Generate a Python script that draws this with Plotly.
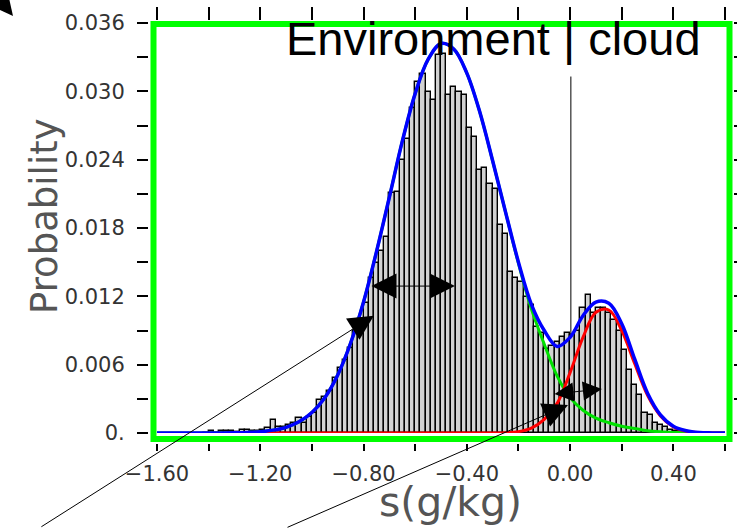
import plotly.graph_objects as go

W, H = 737, 528

# ---------------- data ----------------
BIN_START = -1.42          # left edge of first histogram bin
BIN_WIDTH = 0.02
HIST_PROB = [
    0.0000, 0.0002, 0.0000, 0.0002, 0.0002, 0.0002, 0.0001, 0.0003, 0.0003, 0.0002,
    0.0002, 0.0003, 0.0004, 0.0011, 0.0005, 0.0005, 0.0007, 0.0009, 0.0013, 0.0009,
    0.0014, 0.0018, 0.0029, 0.0032, 0.0037, 0.0048, 0.0057, 0.0064, 0.0075, 0.0090,
    0.0100, 0.0114, 0.0136, 0.0149, 0.0160, 0.0172, 0.0211, 0.0212, 0.0240, 0.0258,
    0.0285, 0.0308, 0.0315, 0.0299, 0.0292, 0.0332, 0.0333, 0.0297, 0.0304, 0.0299,
    0.0297, 0.0268, 0.0260, 0.0231, 0.0233, 0.0219, 0.0214, 0.0183, 0.0175, 0.0141,
    0.0136, 0.0133, 0.0119, 0.0112, 0.0093, 0.0088, 0.0074, 0.0076, 0.0080, 0.0084,
    0.0088, 0.0086, 0.0090, 0.0110, 0.0121, 0.0105, 0.0110, 0.0110, 0.0105, 0.0099,
    0.0090, 0.0073, 0.0055, 0.0042, 0.0033, 0.0018, 0.0016, 0.0009, 0.0007, 0.0005,
    0.0003, 0.0002, 0.0002, 0.0001,
]

CURVE_X = [-1.60, -1.55, -1.50, -1.45, -1.40, -1.35, -1.30, -1.25, -1.20, -1.15,
           -1.10, -1.05, -1.00, -0.95, -0.90, -0.85, -0.80, -0.75, -0.70, -0.65,
           -0.60, -0.55, -0.50, -0.45, -0.40, -0.35, -0.30, -0.25, -0.20, -0.15,
           -0.10, -0.05, 0.00, 0.05, 0.10, 0.15, 0.20, 0.25, 0.30, 0.35,
           0.40, 0.45, 0.50, 0.55, 0.60]
# total fit (blue)
TOTAL_FIT = [0, 0, 0, 0.000001, 0.000003, 0.000008, 0.00002, 0.00005, 0.00011, 0.00025,
             0.0005, 0.00098, 0.0018, 0.0031, 0.0051, 0.0079, 0.0115, 0.0159, 0.0207, 0.0256,
             0.0298, 0.0328, 0.0342, 0.0337, 0.0316, 0.0282, 0.0239, 0.0194, 0.0150, 0.0113,
             0.0090, 0.0076, 0.0084, 0.0103, 0.0115, 0.0114, 0.0096, 0.0065, 0.0035, 0.0016,
             0.0006, 0.0002, 0.00004, 0.00001, 0]
# environment mode (green)
ENV_FIT = [0, 0, 0, 0.000001, 0.000003, 0.000008, 0.00002, 0.00005, 0.00011, 0.00025,
           0.0005, 0.00098, 0.0018, 0.0031, 0.0051, 0.0079, 0.0115, 0.0159, 0.0207, 0.0256,
           0.0298, 0.0328, 0.0342, 0.0337, 0.0316, 0.0282, 0.0239, 0.0194, 0.0149, 0.0109,
           0.0078, 0.0050, 0.0031, 0.0020, 0.0013, 0.0009, 0.0006, 0.0004, 0.0002, 0.0001,
           0.00005, 0.00002, 0, 0, 0]
# cloud mode (red), drawn from -1.20 onward
CLOUD_FIT = [None, None, None, None, None, None, None, None, 0, 0,
             0, 0, 0, 0, 0, 0, 0, 0, 0, 0,
             0, 0, 0, 0, 0, 0, 0.000005, 0.00003, 0.00012, 0.00043,
             0.0012, 0.0026, 0.0053, 0.0084, 0.0106, 0.0108, 0.0090, 0.0061, 0.0033, 0.0015,
             0.00054, 0.00016, 0.00004, 0.00001, 0]

X_TICKS = [-1.6, -1.4, -1.2, -1.0, -0.8, -0.6, -0.4, -0.2, 0.0, 0.2, 0.4, 0.6]
X_TICKTEXT = ["\u22121.60", "", "\u22121.20", "", "\u22120.80", "", "\u22120.40", "",
              "0.00", "", "0.40", ""]
Y_TICKS = [0, 0.003, 0.006, 0.009, 0.012, 0.015, 0.018, 0.021, 0.024, 0.027, 0.030, 0.033, 0.036]
Y_TICKTEXT = ["0.", "", "0.006", "", "0.012", "", "0.018", "", "0.024", "", "0.030", "", "0.036"]

DIVIDER_X = 0.003          # environment | cloud threshold line
DIVIDER_TOP = 0.0313

# annotation anchor points (data units)
WIDTH_ARROW_ENV = (-0.775, -0.446, 0.0129)
WIDTH_ARROW_CLOUD = (-0.066, 0.00342, 0.123, 0.00386)
POINTER_ENV = (-0.760, 0.0103)
POINTER_CLOUD = (-0.008, 0.00246)

TITLE = "Environment | cloud"
X_TITLE = "s(g/kg)"
Y_TITLE = "Probability"

# ---------------- helpers (pixel -> paper fraction) ----------------
def fx(px):
    return px / W


def fy(py):
    return 1 - py / H


centers = [round(BIN_START + BIN_WIDTH * (i + 0.5), 4) for i in range(len(HIST_PROB))]

fig = go.Figure()
fig.add_trace(go.Bar(x=centers, y=HIST_PROB, width=BIN_WIDTH,
                     marker=dict(color="#d2d2d2", line=dict(color="black", width=1.4)),
                     hoverinfo="skip", showlegend=False))
fig.add_trace(go.Scatter(x=CURVE_X, y=ENV_FIT, mode="lines",
                         line=dict(color="#00e000", width=3, shape="spline"),
                         showlegend=False))
fig.add_trace(go.Scatter(x=CURVE_X, y=CLOUD_FIT, mode="lines",
                         line=dict(color="#ff0000", width=3, shape="spline"),
                         showlegend=False))
fig.add_trace(go.Scatter(x=CURVE_X, y=TOTAL_FIT, mode="lines",
                         line=dict(color="#0000ff", width=3.5, shape="spline"),
                         showlegend=False))
# invisible trace to carry the mirrored (top / right) tick axes
fig.add_trace(go.Scatter(x=[X_TICKS[0]], y=[Y_TICKS[0]], xaxis="x2", yaxis="y2",
                         mode="markers", marker=dict(opacity=0), hoverinfo="skip",
                         showlegend=False))

tickfont = dict(family="DejaVu Sans", size=21, color="#333333")
axis_common = dict(showgrid=False, zeroline=False, showline=False, ticks="outside",
                   tickcolor="black", tickwidth=1.5)

fig.update_layout(
    width=W, height=H,
    margin=dict(l=0, r=0, t=0, b=0, pad=0),
    paper_bgcolor="white", plot_bgcolor="white",
    showlegend=False, bargap=0,
    xaxis=dict(domain=[fx(157), fx(725)], range=[-1.6, 0.6], anchor="free",
               position=fy(443), ticklen=7, tickvals=X_TICKS, ticktext=X_TICKTEXT,
               tickfont=tickfont, ticklabelstandoff=5, automargin=False, **axis_common),
    yaxis=dict(domain=[fy(433), fy(23)], range=[0, 0.036], anchor="free",
               position=fx(148), ticklen=11, tickvals=Y_TICKS, ticktext=Y_TICKTEXT,
               tickfont=tickfont, ticklabelstandoff=8, automargin=False, **axis_common),
    xaxis2=dict(overlaying="x", side="top", anchor="free", position=fy(20),
                range=[-1.6, 0.6], ticklen=13, tickvals=X_TICKS, showticklabels=False,
                automargin=False, **axis_common),
    yaxis2=dict(overlaying="y", side="right", anchor="free", position=fx(733),
                range=[0, 0.036], ticklen=11, tickvals=Y_TICKS, showticklabels=False,
                automargin=False, **axis_common),
)

# thin divider line between environment and cloud
fig.add_shape(type="line", xref="x", yref="y", x0=DIVIDER_X, x1=DIVIDER_X,
              y0=0, y1=DIVIDER_TOP, line=dict(color="black", width=1), layer="below")
# bright green frame
fig.add_shape(type="rect", xref="paper", yref="paper",
              x0=fx(153.5), x1=fx(729.5), y0=fy(439), y1=fy(24),
              line=dict(color="#00ff00", width=6), layer="above")

arrow = dict(showarrow=True, arrowcolor="black", arrowwidth=1, text="")

# width arrow on the environment mode
fig.add_annotation(x=WIDTH_ARROW_ENV[1], y=WIDTH_ARROW_ENV[2], xref="x", yref="y",
                   ax=WIDTH_ARROW_ENV[0], ay=WIDTH_ARROW_ENV[2], axref="x", ayref="y",
                   arrowhead=2, startarrowhead=2, arrowside="end+start",
                   arrowsize=5, startarrowsize=5, **arrow)
# width arrow on the cloud mode
fig.add_annotation(x=WIDTH_ARROW_CLOUD[2], y=WIDTH_ARROW_CLOUD[3], xref="x", yref="y",
                   ax=WIDTH_ARROW_CLOUD[0], ay=WIDTH_ARROW_CLOUD[1], axref="x", ayref="y",
                   arrowhead=2, startarrowhead=2, arrowside="end+start",
                   arrowsize=3.8, startarrowsize=3.8, **arrow)
# long pointer lines from the lower left
fig.add_annotation(x=POINTER_ENV[0], y=POINTER_ENV[1], xref="x", yref="y",
                   ax=-334, ay=212, arrowhead=2, arrowsize=5, **arrow)
fig.add_annotation(x=POINTER_CLOUD[0], y=POINTER_CLOUD[1], xref="x", yref="y",
                   ax=-282, ay=123, arrowhead=2, arrowsize=5, **arrow)
# tip of an arrow coming in from outside the top-left corner
fig.add_annotation(x=fx(13), y=fy(16), xref="paper", yref="paper",
                   ax=-35, ay=-43, arrowhead=2, arrowsize=5, **arrow)

# titles
fig.add_annotation(x=fx(494), y=fy(38), xref="paper", yref="paper", text=TITLE,
                   showarrow=False, xanchor="center", yanchor="middle",
                   font=dict(family="Liberation Sans", size=47, color="black"))
fig.add_annotation(x=fx(44), y=fy(216), xref="paper", yref="paper", text=Y_TITLE,
                   showarrow=False, textangle=-90, xanchor="center", yanchor="middle",
                   font=dict(family="DejaVu Sans", size=37, color="#555555"))
fig.add_annotation(x=fx(450), y=fy(502), xref="paper", yref="paper", text=X_TITLE,
                   showarrow=False, xanchor="center", yanchor="middle",
                   font=dict(family="DejaVu Sans", size=41, color="#555555"))

fig.write_html("out.html", post_script="document.body.style.margin='0px';",
               config={"displayModeBar": False})
